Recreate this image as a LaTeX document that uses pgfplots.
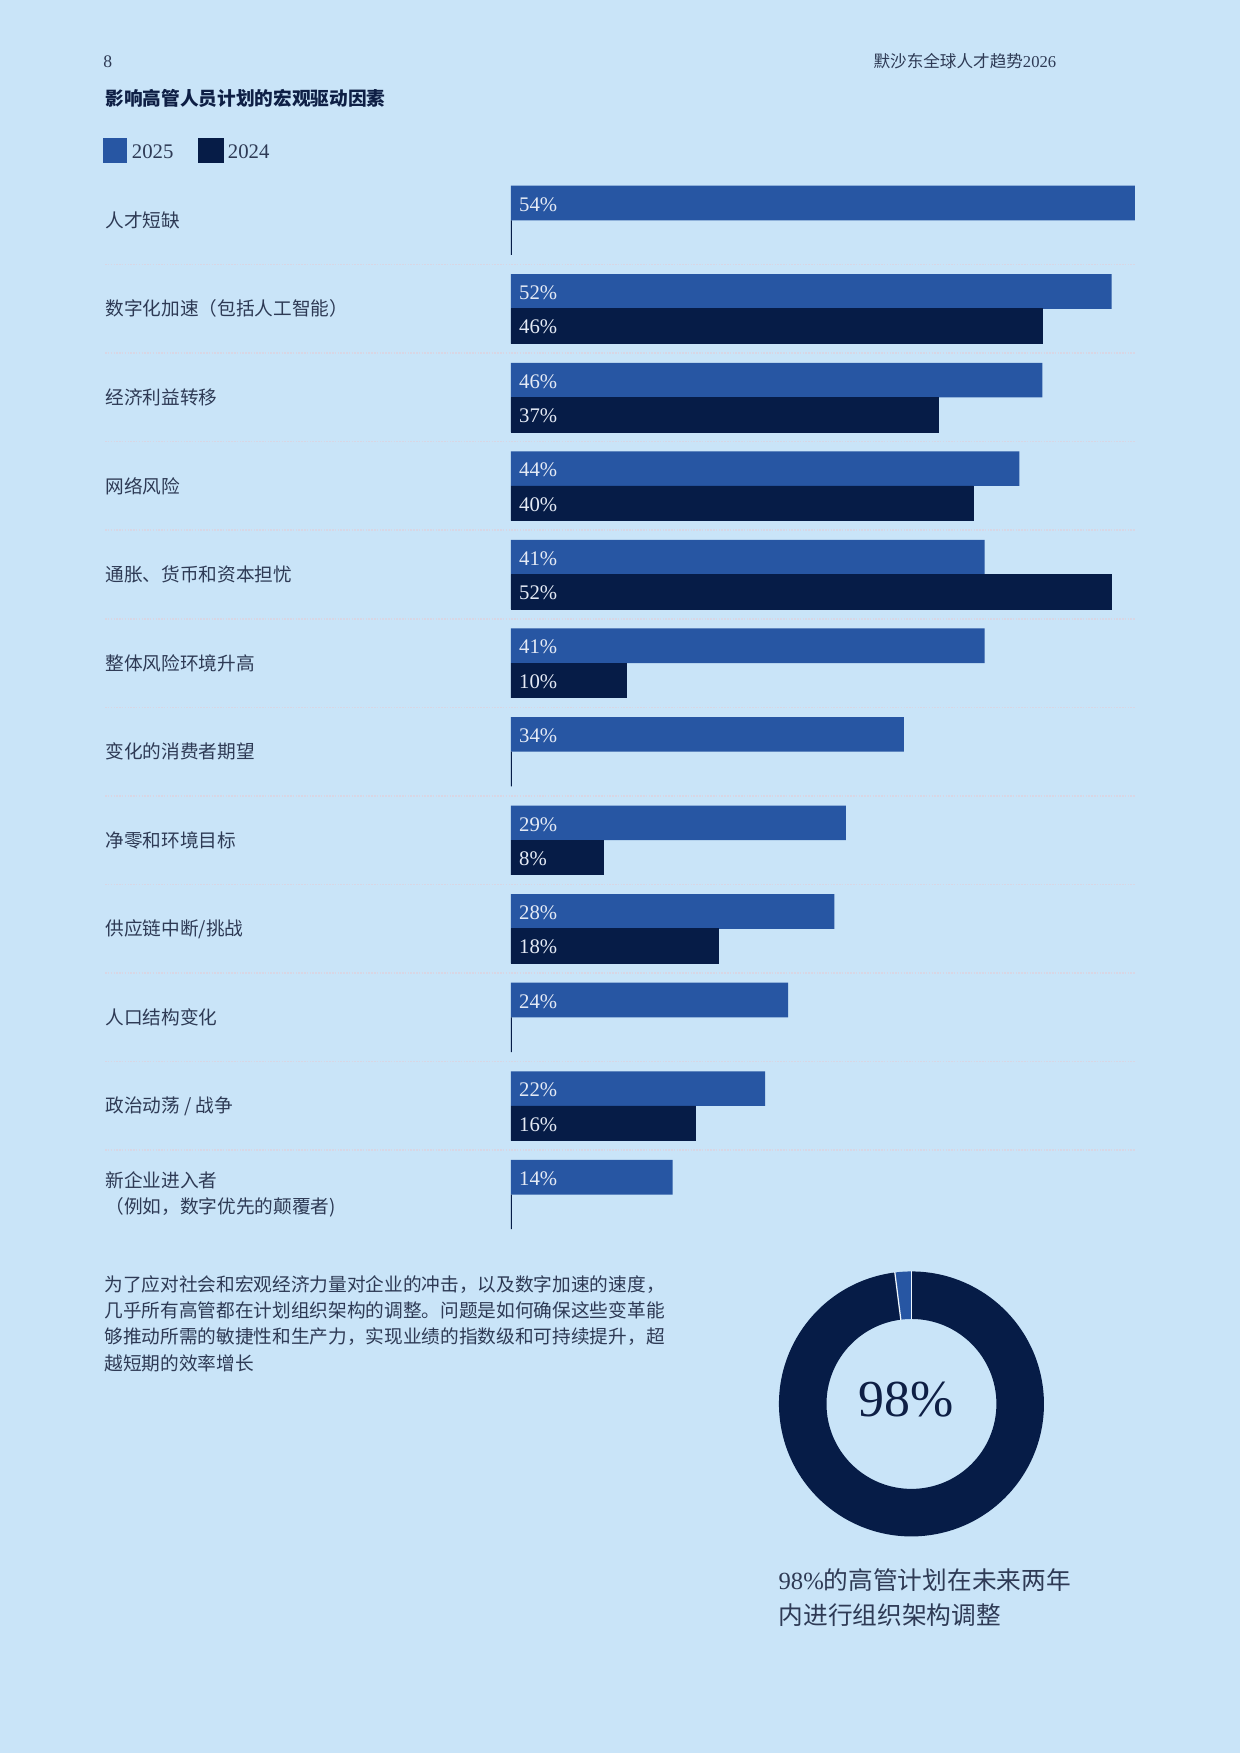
\documentclass[border=0pt]{standalone}
\usepackage{fontspec}
\setmainfont{Liberation Serif}
\newfontfamily\cjk{Noto Sans CJK SC}
\usepackage{pgfplots}
\usepackage{pgfplotstable}
\pgfplotsset{compat=1.18}

\definecolor{bg}{HTML}{C9E4F8}
\definecolor{c25}{HTML}{2756A3}
\definecolor{c24}{HTML}{061C47}
\definecolor{txt}{HTML}{2E3A55}
\definecolor{ttl}{HTML}{0E1F45}
\definecolor{sep}{HTML}{D8D6E4}
\definecolor{lbl}{HTML}{E4EAF5}

% y = position from the bottom (11 = first category)
\pgfplotstableread{
y v
11 54
10 52
9  46
8  44
7  41
6  41
5  34
4  29
3  28
2  24
1  22
0  14
}\tabA
\pgfplotstableread{
y v
11 0
10 46
9  37
8  40
7  52
6  10
5  0
4  8
3  18
2  0
1  16
0  0
}\tabB

\def\dshare{98}

\begin{document}
\begin{tikzpicture}
\fill[bg] (0,0) rectangle (21,29.69);

\node[anchor=base west, inner sep=0pt, text=txt, font=\fontsize{8.5}{10}\selectfont] at (1.742,28.544) {8};
\node[anchor=base east, inner sep=0pt, text=txt, font=\fontsize{8}{10}\selectfont] at (17.895,28.544) {{\cjk 默沙东全球人才趋势}2026};
\node[anchor=west, inner sep=0pt, text=ttl, font=\cjk\bfseries\fontsize{9}{11}\selectfont] at (1.780,28.024) {影响高管人员计划的宏观驱动因素};

\begin{axis}[
  at={(1.780cm,26.709cm)}, anchor=north west,
  scale only axis, width=17.44cm, height=18cm,
  xmin=-35.13, xmax=54, ymin=-0.5, ymax=11.5,
  axis line style={draw=none},
  xtick=\empty,
  ytick={0,...,11},
  yticklabels={{新企业进入者\\（例如，数字优先的颠覆者)}, 政治动荡 / 战争, 人口结构变化,
    供应链中断/挑战, 净零和环境目标, 变化的消费者期望, 整体风险环境升高,
    通胀、货币和资本担忧, 网络风险, 经济利益转移, 数字化加速（包括人工智能）, 人才短缺},
  major tick length=0pt, minor tick length=0pt,
  minor ytick={0.5,1.5,...,10.5},
  yminorgrids=true,
  minor y grid style={sep, line width=0.75pt, dash pattern=on 0.75pt off 0.6pt},
  yticklabel style={anchor=west, inner sep=0pt, align=left, text=txt,
    font=\cjk\fontsize{9}{12.9}\selectfont},
  /pgf/number format/assume math mode=true,
  legend style={draw=none, fill=none, at={(axis description cs:-0.0022,1.0362)},
    anchor=north west, legend columns=2, inner sep=0pt, outer sep=0pt,
    font=\fontsize{10}{12}\selectfont, text=txt,
    nodes={inner xsep=0.076cm, inner ysep=0pt},
    /tikz/every even column/.append style={column sep=0.34cm}},
  legend cell align=left,
  visualization depends on={rawx \as \rx},
  nodes near coords={\pgfmathfloatparsenumber{\rx}\pgfmathfloatifflags{\pgfmathresult}{0}{}{\pgfmathprintnumber{\rx}\%}},
  every node near coord/.append style={font=\fontsize{10}{12}\selectfont, text=lbl,
    anchor=west, inner sep=0pt, xshift={0.1326cm-\rx*0.195669cm}},
]
\addplot[xbar, bar width=0.587cm, bar shift=0.2935cm, fill=c25, draw=none,
  every node near coord/.append style={yshift=0.27cm},
  legend image code/.code={\fill[c25] (0cm,-0.164cm) rectangle (0.4166cm,0.253cm);}]
  table[x=v, y=y] {\tabA};
\addlegendentry{2025}
\addplot[xbar, bar width=0.587cm, bar shift=-0.2935cm, fill=c24, draw=c24, line width=0.4pt,
  every node near coord/.append style={yshift=-0.31cm},
  legend image code/.code={\fill[c24] (0cm,-0.164cm) rectangle (0.4166cm,0.253cm);}]
  table[x=v, y=y] {\tabB};
\addlegendentry{2024}
\end{axis}

\node[anchor=west, align=left, inner sep=0pt, text=txt, font=\cjk\fontsize{9}{12.6}\selectfont] at (1.761,7.27)
  {为了应对社会和宏观经济力量对企业的冲击，以及数字加速的速度，\\
   几乎所有高管都在计划组织架构的调整。问题是如何确保这些变革能\\
   够推动所需的敏捷性和生产力，实现业绩的指数级和可持续提升，超\\
   越短期的效率增长};

% donut: 98% share
\pgfmathsetmacro\da{90+3.6*(100-\dshare)}
\coordinate (dc) at (15.437,5.912);
\fill[c24] ([shift={(\da:2.244)}]dc) arc[start angle=\da, end angle=450, radius=2.244]
  -- ([shift={(450:1.439)}]dc) arc[start angle=450, end angle=\da, radius=1.439] -- cycle;
\fill[c25] ([shift={(90:2.244)}]dc) arc[start angle=90, end angle=\da, radius=2.244]
  -- ([shift={(\da:1.439)}]dc) arc[start angle=\da, end angle=90, radius=1.439] -- cycle;
\draw[white!70!bg, line width=0.6pt] ([shift={(90:1.43)}]dc) -- ([shift={(90:2.25)}]dc);
\draw[white!70!bg, line width=0.6pt] ([shift={(\da:1.43)}]dc) -- ([shift={(\da:2.25)}]dc);

\node[anchor=base, inner sep=0pt, text=ttl, font=\fontsize{25}{30}\selectfont] at (15.348,5.70) {98\%};
\node[anchor=west, align=left, inner sep=0pt, text=txt, font=\fontsize{11.9}{17.2}\selectfont] at (13.18,2.63)
  {98\%{\cjk 的高管计划在未来两年}\\{\cjk 内进行组织架构调整}};
\end{tikzpicture}
\end{document}
